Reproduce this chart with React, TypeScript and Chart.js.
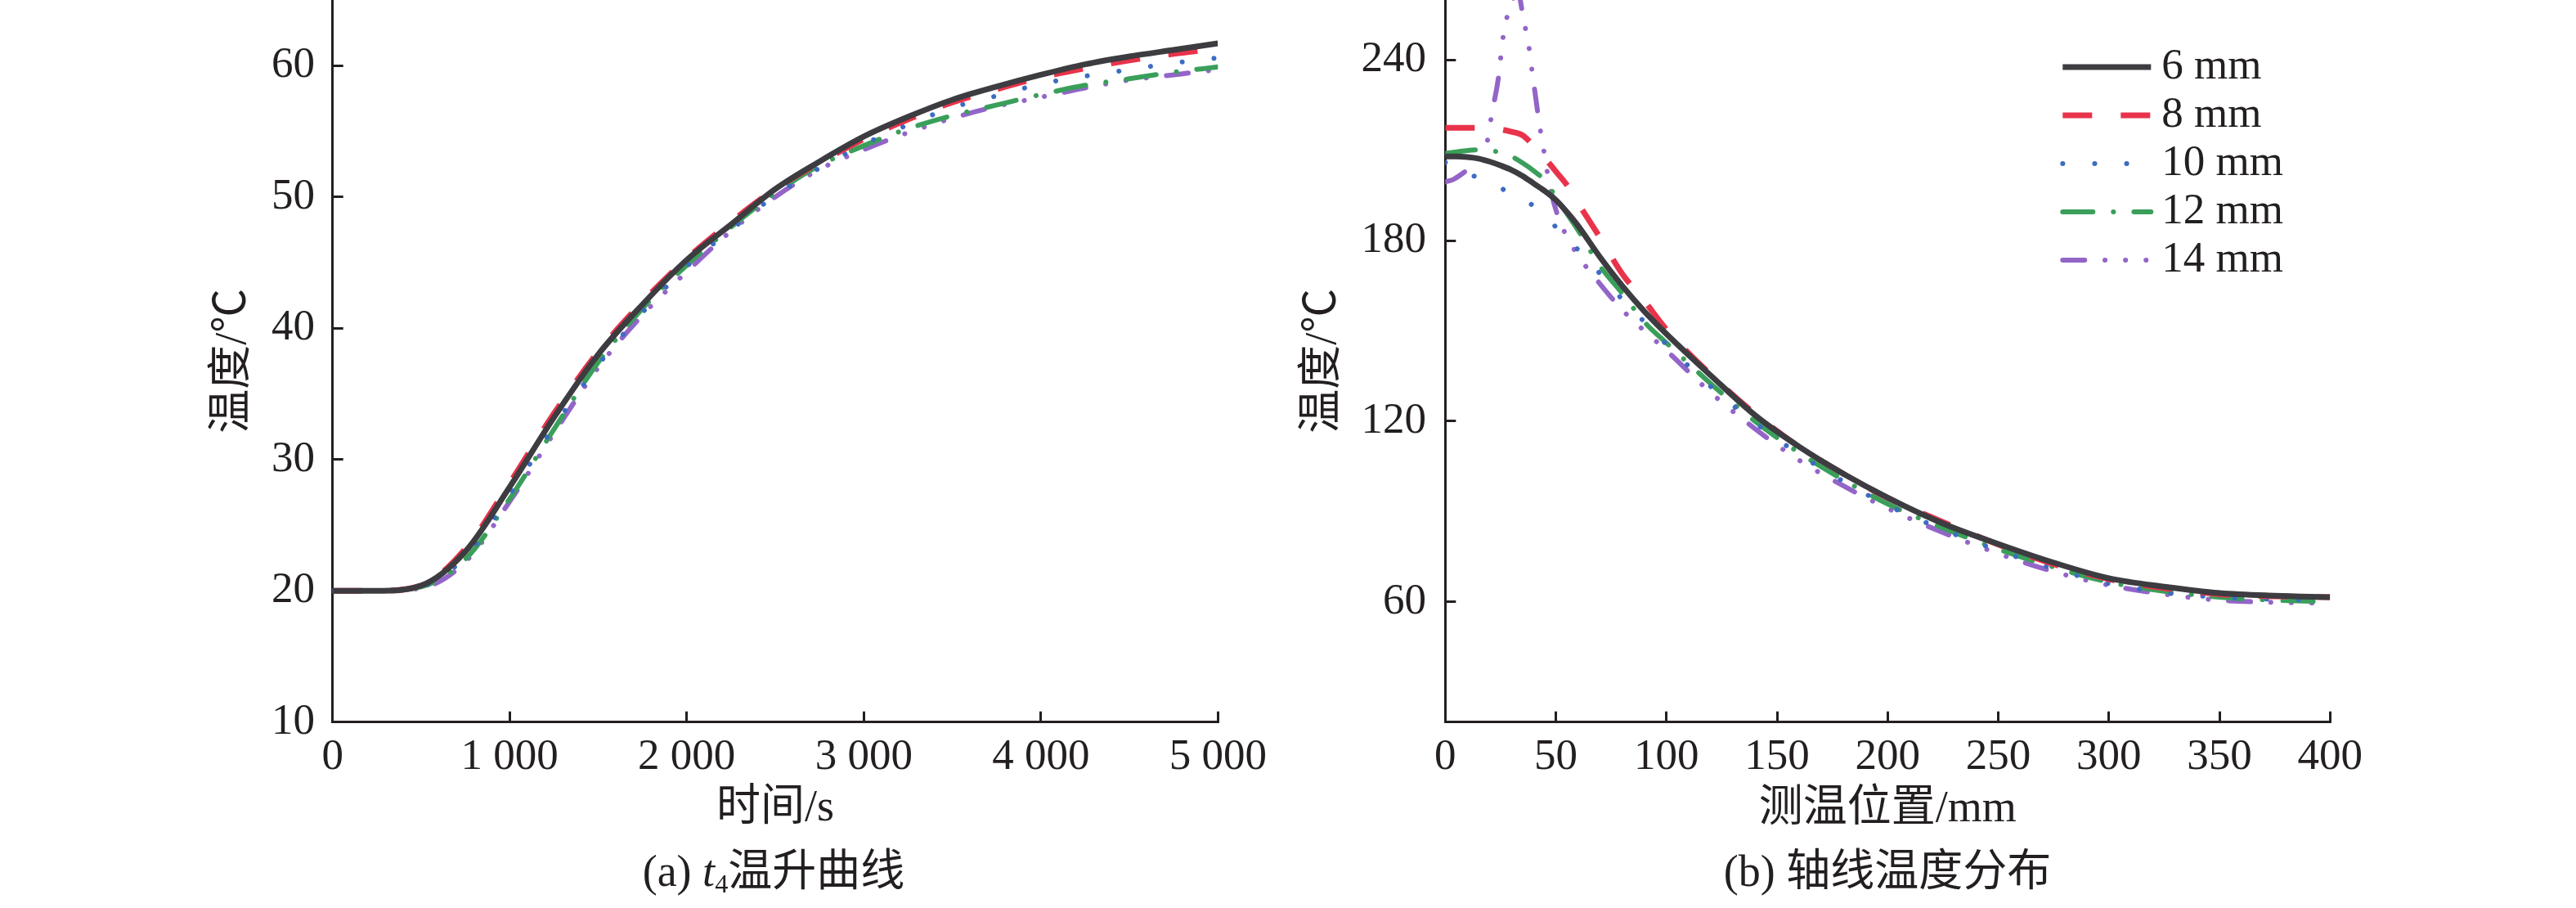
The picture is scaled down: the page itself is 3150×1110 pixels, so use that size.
import React, { useEffect, useRef } from "react";
import { Chart, registerables } from "chart.js";

Chart.register(...registerables);

// ---------- data ----------
const seriesLabels = ["6 mm", "8 mm", "10 mm", "12 mm", "14 mm"];

// (a) t4 temperature rise
const timeS = [0, 250, 500, 750, 1000, 1250, 1500, 1750, 2000, 2250, 2500, 2750, 3000, 3250, 3500, 3750, 4000, 4250, 4500, 4750, 5000];
const t6 = [20, 20, 20.4, 23, 27.9, 33.2, 38, 41.8, 45.2, 47.9, 50.6, 52.7, 54.6, 56.1, 57.4, 58.4, 59.3, 60.1, 60.7, 61.2, 61.7];
const t8 = [20, 20, 20.4, 23.2, 28.2, 33.5, 38.2, 42, 45.3, 48.1, 50.6, 52.6, 54.4, 55.9, 57.2, 58.2, 59.1, 59.8, 60.4, 60.9, 61.3];
const t10 = [20, 20, 20.3, 22.6, 27.3, 32.5, 37.2, 41.2, 44.7, 47.5, 50.1, 52.2, 54, 55.5, 56.8, 57.7, 58.6, 59.2, 59.7, 60.2, 60.6];
const t12 = [20, 20, 20.3, 22.4, 27, 32.3, 37.4, 41.5, 44.8, 47.7, 50.3, 52.4, 53.9, 55.2, 56.2, 57, 57.8, 58.5, 59, 59.5, 59.9];
const t14 = [20, 20, 20.2, 22.2, 26.8, 32, 37, 41, 44.3, 47.4, 50, 52.1, 53.6, 54.9, 56, 56.9, 57.6, 58.3, 58.9, 59.3, 59.7];

// (b) axial temperature distribution
const posMm = [0, 5, 10, 15, 20, 25, 30, 35, 40, 45, 50, 55, 60, 70, 80, 90, 100, 120, 140, 160, 180, 200, 225, 250, 275, 300, 325, 350, 375, 400];
const a6 = [208, 208, 207.8, 207.3, 206.3, 205, 203.5, 201.5, 199, 196.5, 193.5, 189.5, 185, 174.5, 165, 156.5, 149, 135.2, 122, 111.5, 102.5, 94.6, 86, 79.2, 73, 67.8, 65, 62.9, 62, 61.5];
const a8 = [217.5, 217.5, 217.5, 217.5, 217.3, 217, 216.2, 215, 211.5, 207.5, 203, 198.5, 192.5, 181, 169, 160, 150.5, 135.5, 122.5, 111.5, 102.5, 94.5, 86.5, 79, 72.5, 67.5, 64.5, 62.5, 61.8, 61.5];
const a10 = [206, 204.5, 202.5, 200.8, 199, 197.5, 195.5, 193.8, 191.5, 188.5, 184.5, 180.5, 177, 169, 160.5, 153, 145.5, 131.5, 119.5, 109, 100, 92, 84, 77, 71, 66, 63, 61.5, 60.8, 60.5];
const a12 = [209, 209.5, 210, 210.2, 210, 209.3, 208, 205.8, 203.2, 200, 194.5, 189, 183.5, 171.5, 162.5, 153, 146, 132.5, 120, 109.5, 100.5, 92.5, 84.5, 77.5, 71.5, 66.5, 63.5, 61.5, 60.5, 60];
const posMm14 = [0, 4, 9, 14, 17, 19, 21, 24, 26, 28.5, 31, 33, 35.5, 37.5, 39.5, 41, 42.5, 44, 45.5, 47, 51, 56, 61, 69, 80, 90, 100, 120, 140, 160, 180, 200, 225, 250, 275, 300, 325, 350, 375, 400];
const a14 = [199.5, 200.5, 203, 206, 208.5, 213, 222, 234, 247, 256, 261, 262, 253, 246, 235, 227, 219, 212.5, 205.7, 199, 188, 180, 174, 166.5, 157, 150, 143.5, 129.5, 117.5, 107, 98.5, 91, 83, 76, 70, 65.5, 62.5, 60.5, 59.8, 59.5];

// ticks
const timeTicks = [0, 1000, 2000, 3000, 4000, 5000];
const tempTicksA = [10, 20, 30, 40, 50, 60];
const posTicks = [0, 50, 100, 150, 200, 250, 300, 350, 400];
const tempTicksB = [60, 120, 180, 240];

// ---------- styles ----------
const INK = "#231f20";
const FAMILY = "'Liberation Serif', 'Noto Sans CJK SC', serif";
const TICK_FONT = { family: FAMILY, size: 53, lineHeight: 1.2 };
const TITLE_FONT = { family: FAMILY, size: 54, lineHeight: 1.2 };

const LINE_STYLES = [
  { color: "#3c3c41", width: 7, dash: [] as number[], cap: "butt" },
  { color: "#e8334a", width: 7, dash: [36, 35], cap: "butt" },
  { color: "#3d6cc2", width: 6, dash: [0.1, 39], cap: "round" },
  { color: "#3a9f5a", width: 6, dash: [37, 25, 0.1, 25], cap: "round" },
  { color: "#9365c8", width: 6, dash: [27, 24.7, 0.1, 25, 0.1, 25, 0.1, 24.7], cap: "round" },
];

const fmtThousands = (v: number) => String(v).replace(/\B(?=(\d{3})+(?!\d))/g, " ");

function makeDatasets(xs: number[][], ys: number[][]) {
  return ys.map((arr, i) => {
    const st = LINE_STYLES[i];
    return {
      label: seriesLabels[i],
      data: arr.map((y, j) => ({ x: xs[i][j], y })),
      borderColor: st.color,
      backgroundColor: st.color,
      borderWidth: st.width,
      borderDash: st.dash,
      borderCapStyle: st.cap,
      borderJoinStyle: "round",
      pointRadius: 0,
      pointHoverRadius: 0,
      fill: false,
      cubicInterpolationMode: "monotone",
      tension: 0.4,
    };
  });
}

const lineLegend = {
  id: "lineLegend",
  afterDatasetsDraw(chart: any, _args: any, opts: any) {
    if (!opts || !opts.show) return;
    const { ctx, chartArea } = chart;
    ctx.save();
    chart.data.datasets.forEach((ds: any, i: number) => {
      const y = chartArea.top + 82 + 59 * i;
      const x0 = chartArea.right - 327;
      const x1 = chartArea.right - 219;
      ctx.beginPath();
      ctx.setLineDash(ds.borderDash || []);
      ctx.lineCap = ds.borderCapStyle;
      ctx.strokeStyle = ds.borderColor;
      ctx.lineWidth = ds.borderWidth;
      ctx.moveTo(x0, y);
      ctx.lineTo(x1, y);
      ctx.stroke();
      ctx.setLineDash([]);
      ctx.fillStyle = INK;
      ctx.font = `${TICK_FONT.size}px ${FAMILY}`;
      ctx.textAlign = "left";
      ctx.textBaseline = "middle";
      ctx.fillText(ds.label, chartArea.right - 206, y);
    });
    ctx.restore();
  },
};

interface PanelCfg {
  xs: number[][];
  ys: number[][];
  xMin: number; xMax: number; xTicks: number[]; xTitle: string; xFmt: (v: number) => string;
  yMin: number; yMax: number; yTicks: number[]; yTitle: string;
  yWidth: number; padRight: number; yTitleOffset: number; yTickPad: number;
  xHeight: number; xTitleBottom: number; xTickPad: number;
  legend: boolean;
}

function buildChart(canvas: HTMLCanvasElement, c: PanelCfg) {
  const zeroPad = (s: any) => { s.paddingTop = 0; s.paddingBottom = 0; s.paddingLeft = 0; s.paddingRight = 0; };
  const grid = { display: true, drawOnChartArea: false, drawTicks: true, tickLength: -13, lineWidth: 3, color: INK, tickColor: INK, tickWidth: 3 };
  const border = { display: true, width: 3, color: INK };
  return new Chart(canvas, {
    type: "line",
    data: { datasets: makeDatasets(c.xs, c.ys) as any },
    plugins: [lineLegend],
    options: {
      responsive: false,
      animation: false,
      events: [],
      layout: { padding: { left: 0, right: c.padRight, top: 0, bottom: 0 } },
      plugins: {
        legend: { display: false },
        tooltip: { enabled: false },
        lineLegend: { show: c.legend },
      } as any,
      scales: {
        x: {
          type: "linear",
          min: c.xMin,
          max: c.xMax,
          afterBuildTicks: (s: any) => { s.ticks = c.xTicks.map((v) => ({ value: v })); },
          afterFit: (s: any) => { s.height = c.xHeight; zeroPad(s); },
          ticks: { font: TICK_FONT, color: INK, padding: c.xTickPad, maxRotation: 0, minRotation: 0, autoSkip: false, callback: (v: any) => c.xFmt(Number(v)) },
          grid,
          border,
          title: { display: true, text: c.xTitle, color: INK, font: TITLE_FONT, padding: { top: 0, bottom: c.xTitleBottom } },
        },
        y: {
          type: "linear",
          min: c.yMin,
          max: c.yMax,
          afterBuildTicks: (s: any) => { s.ticks = c.yTicks.map((v) => ({ value: v })); },
          afterFit: (s: any) => { s.width = c.yWidth; zeroPad(s); },
          ticks: { font: TICK_FONT, color: INK, padding: c.yTickPad, autoSkip: false },
          grid,
          border,
          title: { display: true, text: c.yTitle, color: INK, font: TITLE_FONT, padding: { top: c.yTitleOffset, bottom: 0 } },
        },
      },
    } as any,
  });
}

const HALF_TITLE = (TITLE_FONT.size * TITLE_FONT.lineHeight) / 2;

const panelA: PanelCfg = {
  xs: [timeS, timeS, timeS, timeS, timeS],
  ys: [t6, t8, t10, t12, t14],
  xMin: 0, xMax: 5000, xTicks: timeTicks, xTitle: "时间/s", xFmt: fmtThousands,
  yMin: 10, yMax: 65, yTicks: tempTicksA, yTitle: "温度/℃",
  yWidth: 406.7, padRight: 1575 - 1489.3, yTitleOffset: 286 - HALF_TITLE, yTickPad: 406.7 + 13 - 385,
  xHeight: 1110 - 882.7, xTitleBottom: 1110 - 989 - HALF_TITLE, xTickPad: 25,
  legend: false,
};

const panelB: PanelCfg = {
  xs: [posMm, posMm, posMm, posMm, posMm14],
  ys: [a6, a8, a10, a12, a14],
  xMin: 0, xMax: 400, xTicks: posTicks, xTitle: "测温位置/mm", xFmt: (v) => String(v),
  yMin: 20, yMax: 260, yTicks: tempTicksB, yTitle: "温度/℃",
  yWidth: 1767.3 - 1575, padRight: 1575 - (2849.3 - 1575), yTitleOffset: 1619 - 1575 - HALF_TITLE, yTickPad: 1767.3 - 1575 + 13 - 169,
  xHeight: 1110 - 882.7, xTitleBottom: 1110 - 990 - HALF_TITLE, xTickPad: 25,
  legend: true,
};

function Panel({ left, cfg }: { left: number; cfg: PanelCfg }) {
  const ref = useRef<HTMLCanvasElement | null>(null);
  useEffect(() => {
    if (!ref.current) return;
    const chart = buildChart(ref.current, cfg);
    return () => chart.destroy();
  }, [cfg]);
  return (
    <canvas
      ref={ref}
      width={1575}
      height={1110}
      style={{ position: "absolute", left, top: 0, width: 1575, height: 1110 }}
    />
  );
}

const captionStyle = (center: number): React.CSSProperties => ({
  position: "absolute",
  left: center - 500,
  width: 1000,
  top: 1033,
  height: 65,
  lineHeight: "65px",
  fontSize: 54,
  fontFamily: FAMILY,
  color: INK,
  textAlign: "center",
  whiteSpace: "nowrap",
});

export default function App() {
  return (
    <div style={{ position: "absolute", left: 0, top: 0, width: 3150, height: 1110, background: "#ffffff", overflow: "hidden" }}>
      <Panel left={0} cfg={panelA} />
      <Panel left={1575} cfg={panelB} />
      <div style={captionStyle(946)}>
        (a) <i>t</i>
        <sub style={{ fontSize: "0.6em", verticalAlign: "-0.25em", lineHeight: 0 }}>4</sub>温升曲线
      </div>
      <div style={captionStyle(2308)}>(b) 轴线温度分布</div>
    </div>
  );
}
